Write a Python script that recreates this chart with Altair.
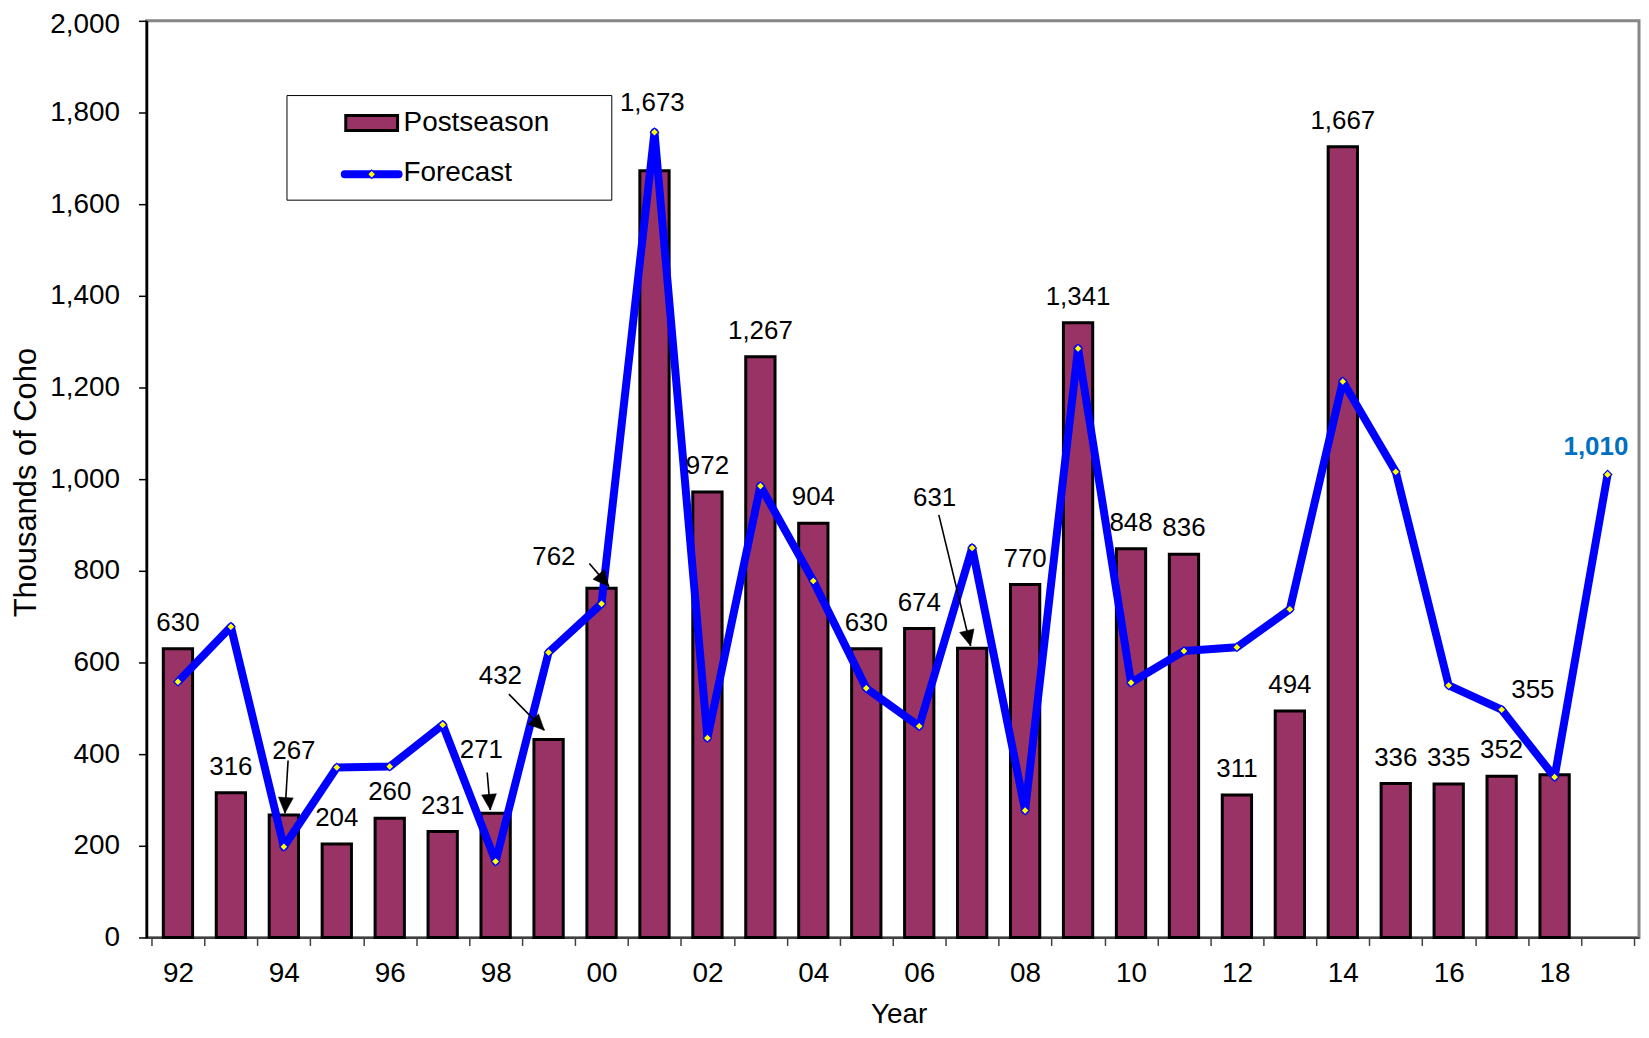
import math
import altair as alt
import pandas as pd

# ---------------- data ----------------
years = list(range(1992, 2020))                      # forecast years 1992-2019
post_years = list(range(1992, 2019))                 # postseason years 1992-2018
postseason = [630, 316, 267, 204, 260, 231, 271, 432, 762, 1673, 972, 1267, 904, 630,
              674, 631, 770, 1341, 848, 836, 311, 494, 1725, 336, 335, 352, 355]
post_labels = ["630", "316", "267", "204", "260", "231", "271", "432", "762", "1,673",
               "972", "1,267", "904", "630", "674", "631", "770", "1,341", "848", "836",
               "311", "494", "1,667", "336", "335", "352", "355"]
forecast = [558, 678, 198, 371, 373, 464, 166, 622, 728, 1757, 435, 985, 778, 544,
            461, 850, 277, 1285, 556, 625, 633, 716, 1213, 1016, 550, 497, 350, 1010]

# labels moved off their bars (anchors in data units: year, thousands)
callout_years_of = [1994, 1998, 1999, 2000, 2001, 2007, 2018]
callout_text = ["267", "271", "432", "762", "1,673", "631", "355"]
callout_x = [1994.19, 1997.73, 1998.09, 1999.10, 2000.96, 2006.29, 2017.59]
callout_v = [407, 409, 570, 831, 1820, 959, 540]
arrow_x1 = [1994.08, 1997.84, 1998.25, 1999.77, 2006.37]
arrow_v1 = [386, 360, 531, 816, 922]
arrow_x2 = [1994.02, 1997.90, 1998.92, 2000.14, 2006.97]
arrow_v2 = [271, 278, 452, 766, 636]
fc_label_text = ["1,010"]
fc_label_x = [2018.78]
fc_label_v = [1071]

y_ticks = list(range(0, 2001, 200))
x_tick_values = [1991.5 + i for i in range(29)] + list(range(1992, 2019, 2))

# ---------------- layout ----------------
W, H = 1498, 920
FONT = "Liberation Sans"
PX_YEAR = W / 28.0
PX_VAL = H / 2000.0

bars_df = pd.DataFrame({"year": post_years, "value": postseason, "label": post_labels})
bars_df["callout"] = bars_df["year"].isin(callout_years_of)
fc_df = pd.DataFrame({"year": years, "value": forecast})
callout_df = pd.DataFrame({"year": callout_x, "value": callout_v, "label": callout_text})
fc_lab_df = pd.DataFrame({"year": fc_label_x, "value": fc_label_v, "label": fc_label_text})

ang = []
for a, b, c, d in zip(arrow_x1, arrow_v1, arrow_x2, arrow_v2):
    dx = (c - a) * PX_YEAR
    dy = -(d - b) * PX_VAL
    ang.append(math.degrees(math.atan2(dx, -dy)) % 360)
arrow_df = pd.DataFrame({"year": arrow_x1, "value": arrow_v1, "year2": arrow_x2,
                         "value2": arrow_v2, "angle": ang})

xscale = alt.Scale(domain=[1991.5, 2019.5], nice=False, zero=False)
yscale = alt.Scale(domain=[0, 2000], nice=False)

xaxis = alt.Axis(
    values=x_tick_values,
    labelExpr="datum.value % 2 == 0 ? slice(toString(datum.value), 2) : ''",
    labelOverlap=False, labelFlush=False,
    tickOpacity={"condition": {"test": "datum.value % 1 == 0", "value": 0}, "value": 1},
    tickSize=8, tickWidth=1.5, tickColor="#404040",
    domainColor="#404040", domainWidth=2,
    labelFontSize=28, labelPadding=14, grid=False,
    title="Year", titleFontSize=28, titleFontWeight="normal",
    titleX=755, titleY=77, titleBaseline="middle", titleAlign="center",
)
yaxis = alt.Axis(
    values=y_ticks, format=",.0f", grid=False,
    labelOffset={"condition": {"test": "datum.value == 2000", "value": 4}, "value": 0},
    tickSize=8, tickWidth=1.5, tickColor="black",
    domainColor="black", domainWidth=2.5,
    labelFontSize=28, labelPadding=19,
    title="Thousands of Coho", titleFontSize=31, titleFontWeight="normal",
    titleX=-120, titleY=463, titleAngle=270, titleAlign="center", titleBaseline="middle",
)


def X(field="year"):
    return alt.X(field, type="quantitative", scale=xscale, axis=xaxis)


def Y(field="value"):
    return alt.Y(field, type="quantitative", scale=yscale, axis=yaxis)


bars = alt.Chart(bars_df).mark_bar(
    width=29.4, fill="#993366", stroke="black", strokeWidth=3
).encode(x=X(), y=Y())

line = alt.Chart(fc_df).mark_line(
    color="#0000FF", strokeWidth=8, strokeJoin="round"
).encode(x=X(), y=Y())

pts = alt.Chart(fc_df).mark_point(
    shape="diamond", filled=True, fill="#FFFF00", stroke="#0000FF",
    strokeWidth=1.2, size=70, opacity=1
).encode(x=X(), y=Y())

bar_text = alt.Chart(bars_df).transform_filter("!datum.callout").mark_text(
    font=FONT, fontSize=26, color="black", baseline="middle", dy=-26
).encode(x=X(), y=Y(), text="label:N")

callout_t = alt.Chart(callout_df).mark_text(
    font=FONT, fontSize=26, color="black", baseline="middle"
).encode(x=X(), y=Y(), text="label:N")

fc_t = alt.Chart(fc_lab_df).mark_text(
    font=FONT, fontSize=26, fontWeight="bold", color="#0070C0", baseline="middle"
).encode(x=X(), y=Y(), text="label:N")

arrow_lines = alt.Chart(arrow_df).mark_rule(color="black", strokeWidth=1.6).encode(
    x=X(), x2="year2", y=Y(), y2="value2")

arrow_heads = alt.Chart(arrow_df).mark_point(
    shape="M0,0L0.47,1L-0.47,1Z", filled=True, fill="black", stroke="black",
    strokeWidth=0.5, size=1000, opacity=1
).encode(x=X("year2"), y=Y("value2"), angle=alt.Angle("angle:Q", scale=None))

# ---------------- legend (boxed, top-left inside the plot) ----------------
one = pd.DataFrame({"k": [0]})
leg_box = alt.Chart(one).mark_rect(fill="white", stroke="black", strokeWidth=1).encode(
    x=alt.value(141), x2=alt.value(467), y=alt.value(75), y2=alt.value(180))
leg_swatch = alt.Chart(one).mark_rect(fill="#993366", stroke="black", strokeWidth=3).encode(
    x=alt.value(200), x2=alt.value(252), y=alt.value(95), y2=alt.value(110))
leg_line = alt.Chart(one).mark_rule(color="#0000FF", strokeWidth=8, strokeCap="round").encode(
    x=alt.value(199), x2=alt.value(253), y=alt.value(154))
leg_pt = alt.Chart(one).mark_point(
    shape="diamond", filled=True, fill="#FFFF00", stroke="#0000FF", strokeWidth=1.2,
    size=70, opacity=1).encode(x=alt.value(226), y=alt.value(154))
leg_t1 = alt.Chart(one).mark_text(font=FONT, fontSize=28, align="left", baseline="middle",
                                  color="black").encode(
    x=alt.value(258), y=alt.value(103), text=alt.value("Postseason"))
leg_t2 = alt.Chart(one).mark_text(font=FONT, fontSize=28, align="left", baseline="middle",
                                  color="black").encode(
    x=alt.value(258), y=alt.value(153), text=alt.value("Forecast"))

chart = alt.layer(
    bars, line, pts, bar_text, callout_t, fc_t, arrow_lines, arrow_heads,
    leg_box, leg_swatch, leg_line, leg_pt, leg_t1, leg_t2,
).properties(
    width=W, height=H,
    autosize=alt.AutoSizeParams(type="none"),
    padding={"left": 139, "top": 11, "right": 2, "bottom": 91},
).configure(
    font=FONT, background="white"
).configure_axis(
    labelFont=FONT, titleFont=FONT, labelColor="black", titleColor="black"
).configure_view(
    stroke="#868686", strokeWidth=3
)

chart.save("out.html", embed_options={"renderer": "svg", "actions": False})
